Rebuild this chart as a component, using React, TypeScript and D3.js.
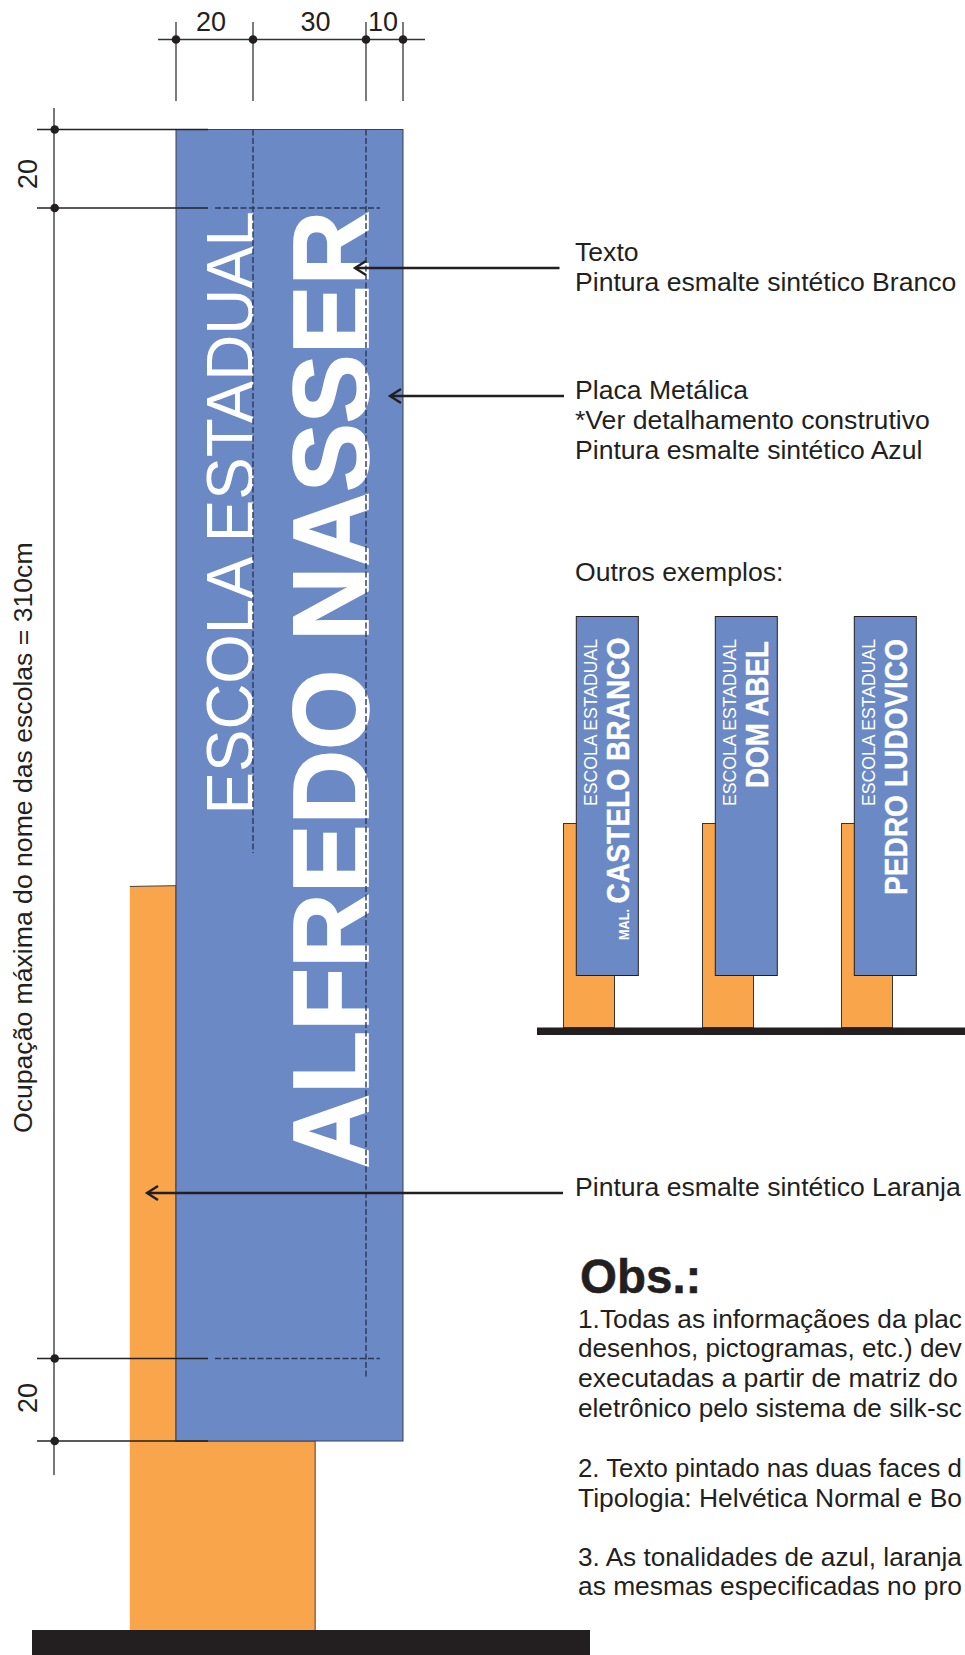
import React, { useLayoutEffect, useRef } from "react";
import * as d3 from "d3";

// ---- data (centimetres on the drawing, and texts)
const widthStops = [0, 20, 30, 10];
const heightStops = [0, 20, 330, 350];
const widthLabels = ["20", "30", "10"];
const heightNote = "Ocupação máxima do nome das escolas = 310cm";
const sideLabels = ["20", "20"];
const schoolLine = "ESCOLA ESTADUAL";
const mainName = "ALFREDO NASSER";
const exampleNames = ["CASTELO BRANCO", "DOM ABEL", "PEDRO LUDOVICO"];
const examplePrefixes = ["MAL.", "", ""];
const calloutTexto = ["Texto", "Pintura esmalte sintético Branco"];
const calloutPlaca = ["Placa Metálica", "*Ver detalhamento construtivo", "Pintura esmalte sintético Azul"];
const calloutLaranja = ["Pintura esmalte sintético Laranja"];
const outros = "Outros exemplos:";
const obsTitle = "Obs.:";
const obsLines = [
  "1.Todas as informaçãoes da plac",
  "desenhos, pictogramas, etc.) dev",
  "executadas a partir de matriz do",
  "eletrônico pelo sistema de silk-sc",
  "",
  "2. Texto pintado nas duas faces d",
  "Tipologia: Helvética Normal e Bo",
  "",
  "3. As tonalidades de azul, laranja",
  "as mesmas especificadas no pro",
];

// ---- layout
const W = 965, H = 1655;
const BLUE = "#6b89c5", ORANGE = "#f9a54b", INK = "#231f20", DASH = "#2c3857", EDGE = "#3a3f55";
const FONT = "'Liberation Sans', Arial, sans-serif";
const BODY = 26.6;

const cumWidth = d3.cumsum(widthStops);
const x = d3.scaleLinear().domain(Array.from(cumWidth)).range([176, 253, 366, 403]);
const y = d3.scaleLinear().domain(heightStops).range([129.5, 208, 1358.5, 1441]);

const orangeOutline = [
  [-12, 202.8], [0, 202.6], [0, 350], [36.5, 350], [36.5, 396], [-12, 396],
] as [number, number][];
const pathCm = d3.line<[number, number]>().x(d => x(d[0])).y(d => y(d[1]));

const exX = d3.scalePoint<string>().domain(exampleNames).range([576, 854]);
const exLengths = [266, 147, 256];

function Rot({ px, py, children, size, weight = 400, fill = INK, anchor = "start", len, heavy = 0 }: any) {
  return (
    <text transform={`translate(${px},${py}) rotate(-90)`} fontSize={size} fontWeight={weight} fill={fill}
      textAnchor={anchor} fontFamily={FONT} stroke={heavy ? fill : "none"} strokeWidth={heavy}
      {...(len ? { textLength: len, lengthAdjust: "spacingAndGlyphs" } : {})}>
      {children}
    </text>
  );
}

// A line of text whose size is reduced just enough to stay inside the page's right edge.
function FitText({ px, py, size, children }: any) {
  const ref = useRef<SVGTextElement>(null);
  useLayoutEffect(() => {
    const el = ref.current;
    if (!el) return;
    const room = W - px - 3;
    const len = el.getComputedTextLength();
    if (len > room) el.setAttribute("font-size", String((size * room) / len));
  }, [px, size]);
  return <text ref={ref} x={px} y={py} fontSize={size}>{children}</text>;
}

function Lines({ lines, px, py, step, size = BODY }: any) {
  return (
    <g fontFamily={FONT} fill={INK}>
      {lines.map((t: string, i: number) => (
        <FitText key={i} px={px} py={py + i * step} size={size}>{t}</FitText>
      ))}
    </g>
  );
}

function Arrow({ from, to, yy }: { from: number; to: number; yy: number }) {
  const head = d3.line()([[to + 11, yy - 7], [to, yy], [to + 11, yy + 7]]) as string;
  return (
    <g stroke={INK} strokeWidth={2.4} fill="none">
      <line x1={from} x2={to} y1={yy} y2={yy} />
      <path d={head} />
    </g>
  );
}

export default function App() {
  const topStops = Array.from(cumWidth);
  const topY = 39.5;
  const leftX = 54;
  return (
    <svg width={W} height={H} viewBox={`0 0 ${W} ${H}`} style={{ position: "absolute", left: 0, top: 0, background: "#fff" }}>
      {/* poste */}
      <path d={pathCm(orangeOutline) as string} fill={ORANGE} stroke="#4a4038" strokeWidth={1} />
      {/* placa */}
      <rect x={x(0)} y={y(0)} width={x(60) - x(0)} height={y(350) - y(0)} fill={BLUE} stroke={EDGE} strokeWidth={1} />

      <Rot px={x(20)} py={814.5} size={67} fill="#fff" len={603.5}>{schoolLine}</Rot>
      <Rot px={x(50) + 2} py={1168.5} size={107} weight={700} fill="#fff" len={957.5} heavy={1.6}>{mainName}</Rot>

      {/* tracejados */}
      <g stroke={DASH} strokeWidth={1.4} strokeDasharray="6 2.5" fill="none">
        <line x1={x(20)} x2={x(20)} y1={y(0)} y2={853} />
        <line x1={x(50)} x2={x(50)} y1={y(0)} y2={1378} />
        <line x1={215} x2={380} y1={y(20)} y2={y(20)} />
        <line x1={215} x2={380} y1={y(330)} y2={y(330)} />
      </g>

      {/* cotas superiores */}
      <g stroke="#333" strokeWidth={1.3}>
        <line x1={158} x2={425} y1={topY} y2={topY} />
        {topStops.map((c, i) => (
          <line key={i} x1={x(c)} x2={x(c)} y1={22} y2={101} />
        ))}
      </g>
      {topStops.map((c, i) => (
        <circle key={i} cx={x(c)} cy={topY} r={4.3} fill={INK} />
      ))}
      <g fontFamily={FONT} fontSize={27} fill={INK} textAnchor="middle">
        {widthLabels.map((t, i) => (
          <text key={i} x={[211, 315.5, 383][i]} y={31}>{t}</text>
        ))}
      </g>

      {/* cotas laterais */}
      <line x1={leftX} x2={leftX} y1={108} y2={1475} stroke="#555" strokeWidth={1.6} />
      <g stroke="#222" strokeWidth={1.3}>
        {heightStops.map((c, i) => (
          <line key={i} x1={37} x2={208} y1={y(c)} y2={y(c)} />
        ))}
      </g>
      {heightStops.map((c, i) => (
        <circle key={i} cx={leftX + 0.7} cy={y(c)} r={4.3} fill={INK} />
      ))}
      <Rot px={37} py={174} size={27} anchor="middle">{sideLabels[0]}</Rot>
      <Rot px={37} py={1398} size={27} anchor="middle">{sideLabels[1]}</Rot>
      <Rot px={32} py={1133} size={BODY}>{heightNote}</Rot>

      {/* setas */}
      <Arrow from={559.5} to={355} yy={268} />
      <Arrow from={564} to={390} yy={396} />
      <Arrow from={563} to={147} yy={1193} />

      <Lines lines={calloutTexto} px={575} py={261} step={30} />
      <Lines lines={calloutPlaca} px={575} py={399} step={30} />
      <Lines lines={[outros]} px={575} py={581} step={30} />
      <Lines lines={calloutLaranja} px={575} py={1195.5} step={30} />

      {/* outros exemplos */}
      {exampleNames.map((name, i) => {
        const px = exX(name) as number;
        return (
          <g key={name}>
            <rect x={px - 12.5} y={823.5} width={51} height={204} fill={ORANGE} stroke="#3a3430" strokeWidth={1} />
            <rect x={px + 0.3} y={616.5} width={62} height={359} fill={BLUE} stroke={INK} strokeWidth={1} />
            <Rot px={px + 21.3} py={806} size={18.9} fill="#fff" len={167}>{schoolLine}</Rot>
            <Rot px={px + 53} py={[903.5, 788, 895][i]} size={31} weight={700} fill="#fff" len={exLengths[i]} heavy={0.4}>{name}</Rot>
            {examplePrefixes[i] && (
              <Rot px={px + 53} py={940} size={15.5} weight={700} fill="#fff" len={31}>{examplePrefixes[i]}</Rot>
            )}
          </g>
        );
      })}
      <rect x={537} y={1027.5} width={W - 537} height={7.5} fill={INK} />

      {/* observações */}
      <text x={580} y={1293} fontFamily={FONT} fontSize={47.5} fontWeight={700} fill={INK} stroke={INK} strokeWidth={0.5}>{obsTitle}</text>
      <Lines lines={obsLines.slice(0, 4)} px={578} py={1327.7} step={29.7} />
      <Lines lines={obsLines.slice(5, 7)} px={578} py={1476.7} step={30} />
      <Lines lines={obsLines.slice(8)} px={578} py={1565.7} step={29.5} />

      {/* solo */}
      <rect x={32} y={1630} width={558} height={25} fill={INK} />
    </svg>
  );
}
